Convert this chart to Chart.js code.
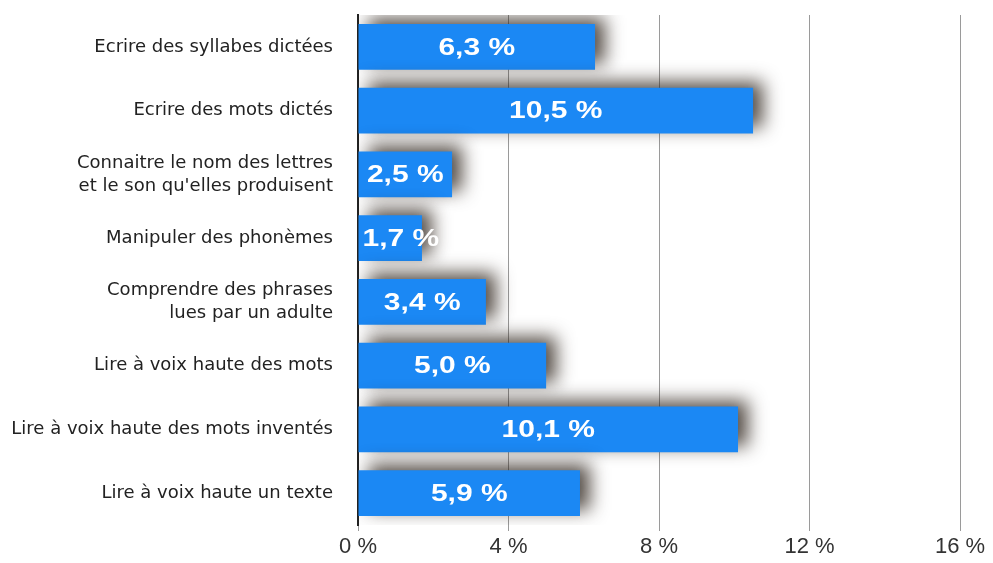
<!DOCTYPE html>
<html>
<head>
<meta charset="utf-8">
<script src="https://cdn.jsdelivr.net/npm/chart.js@4.4.1/dist/chart.umd.min.js"></script>
<style>
html,body{margin:0;padding:0;background:#fff;}
#wrap{width:993px;height:563px;position:relative;}
</style>
</head>
<body>
<div id="wrap"><canvas id="c" width="993" height="563"></canvas></div>
<script>
const categories = [
  "Ecrire des syllabes dictées",
  "Ecrire des mots dictés",
  ["Connaitre le nom des lettres", "et le son qu'elles produisent"],
  "Manipuler des phonèmes",
  ["Comprendre des phrases", "lues par un adulte"],
  "Lire à voix haute des mots",
  "Lire à voix haute des mots inventés",
  "Lire à voix haute un texte"
];
const values = [6.3, 10.5, 2.5, 1.7, 3.4, 5.0, 10.1, 5.9];
const xTicks = [0, 4, 8, 12, 16];

const fmt = v => v.toFixed(1).replace('.', ',') + ' %';

const shadowPlugin = {
  id: 'shadow',
  beforeDatasetsDraw(chart) {
    const ctx = chart.ctx;
    ctx.save();
    ctx.shadowColor = 'rgba(40,30,20,0.78)';
    ctx.shadowBlur = 18;
    ctx.shadowOffsetX = 10;
    ctx.shadowOffsetY = -6;
  },
  afterDatasetsDraw(chart) {
    const ctx = chart.ctx;
    ctx.restore();
    const meta = chart.getDatasetMeta(0);
    const sx = 1.25;
    meta.data.forEach((bar, i) => {
      ctx.save();
      ctx.fillStyle = '#ffffff';
      ctx.font = 'bold 24px "Liberation Sans", Arial, sans-serif';
      ctx.textAlign = 'center';
      ctx.textBaseline = 'middle';
      const txt = fmt(values[i]);
      const w = ctx.measureText(txt).width * sx;
      const cx = Math.max((bar.x + bar.base) / 2, bar.base + w / 2 + 4);
      ctx.translate(cx, bar.y + 1);
      ctx.scale(sx, 1);
      ctx.fillText(txt, 0, 0);
      ctx.restore();
    });
  }
};

new Chart(document.getElementById('c'), {
  type: 'bar',
  data: {
    labels: categories,
    datasets: [{
      data: values,
      backgroundColor: '#1b88f4',
      borderWidth: 0,
      categoryPercentage: 1,
      barPercentage: 0.72
    }]
  },
  options: {
    indexAxis: 'y',
    responsive: false,
    animation: false,
    layout: { padding: { top: 15, right: 33, left: 0, bottom: 0 } },
    plugins: { legend: { display: false }, tooltip: { enabled: false } },
    scales: {
      x: {
        min: 0, max: 16,
        afterBuildTicks(scale) { scale.ticks = xTicks.map(v => ({ value: v })); },
        ticks: {
          callback: v => v + ' %',
          color: '#333',
          font: { family: '"Liberation Sans", Arial, sans-serif', size: 22 },
          padding: 3
        },
        grid: { color: '#9a9a9a', lineWidth: 1, tickLength: 6, drawOnChartArea: true },
        border: { display: false },
        afterFit(scale) { scale.height = 38; scale.paddingLeft = 0; scale.paddingRight = 0; }
      },
      y: {
        ticks: {
          color: '#222',
          font: { family: '"DejaVu Sans", sans-serif', size: 18, lineHeight: 1.28 },
          padding: 25
        },
        grid: { display: false, drawTicks: false },
        border: { display: true, color: '#222', width: 2 },
        afterFit(scale) { scale.width = 358; scale.paddingTop = 0; scale.paddingBottom = 0; }
      }
    }
  },
  plugins: [shadowPlugin]
});
</script>
</body>
</html>
